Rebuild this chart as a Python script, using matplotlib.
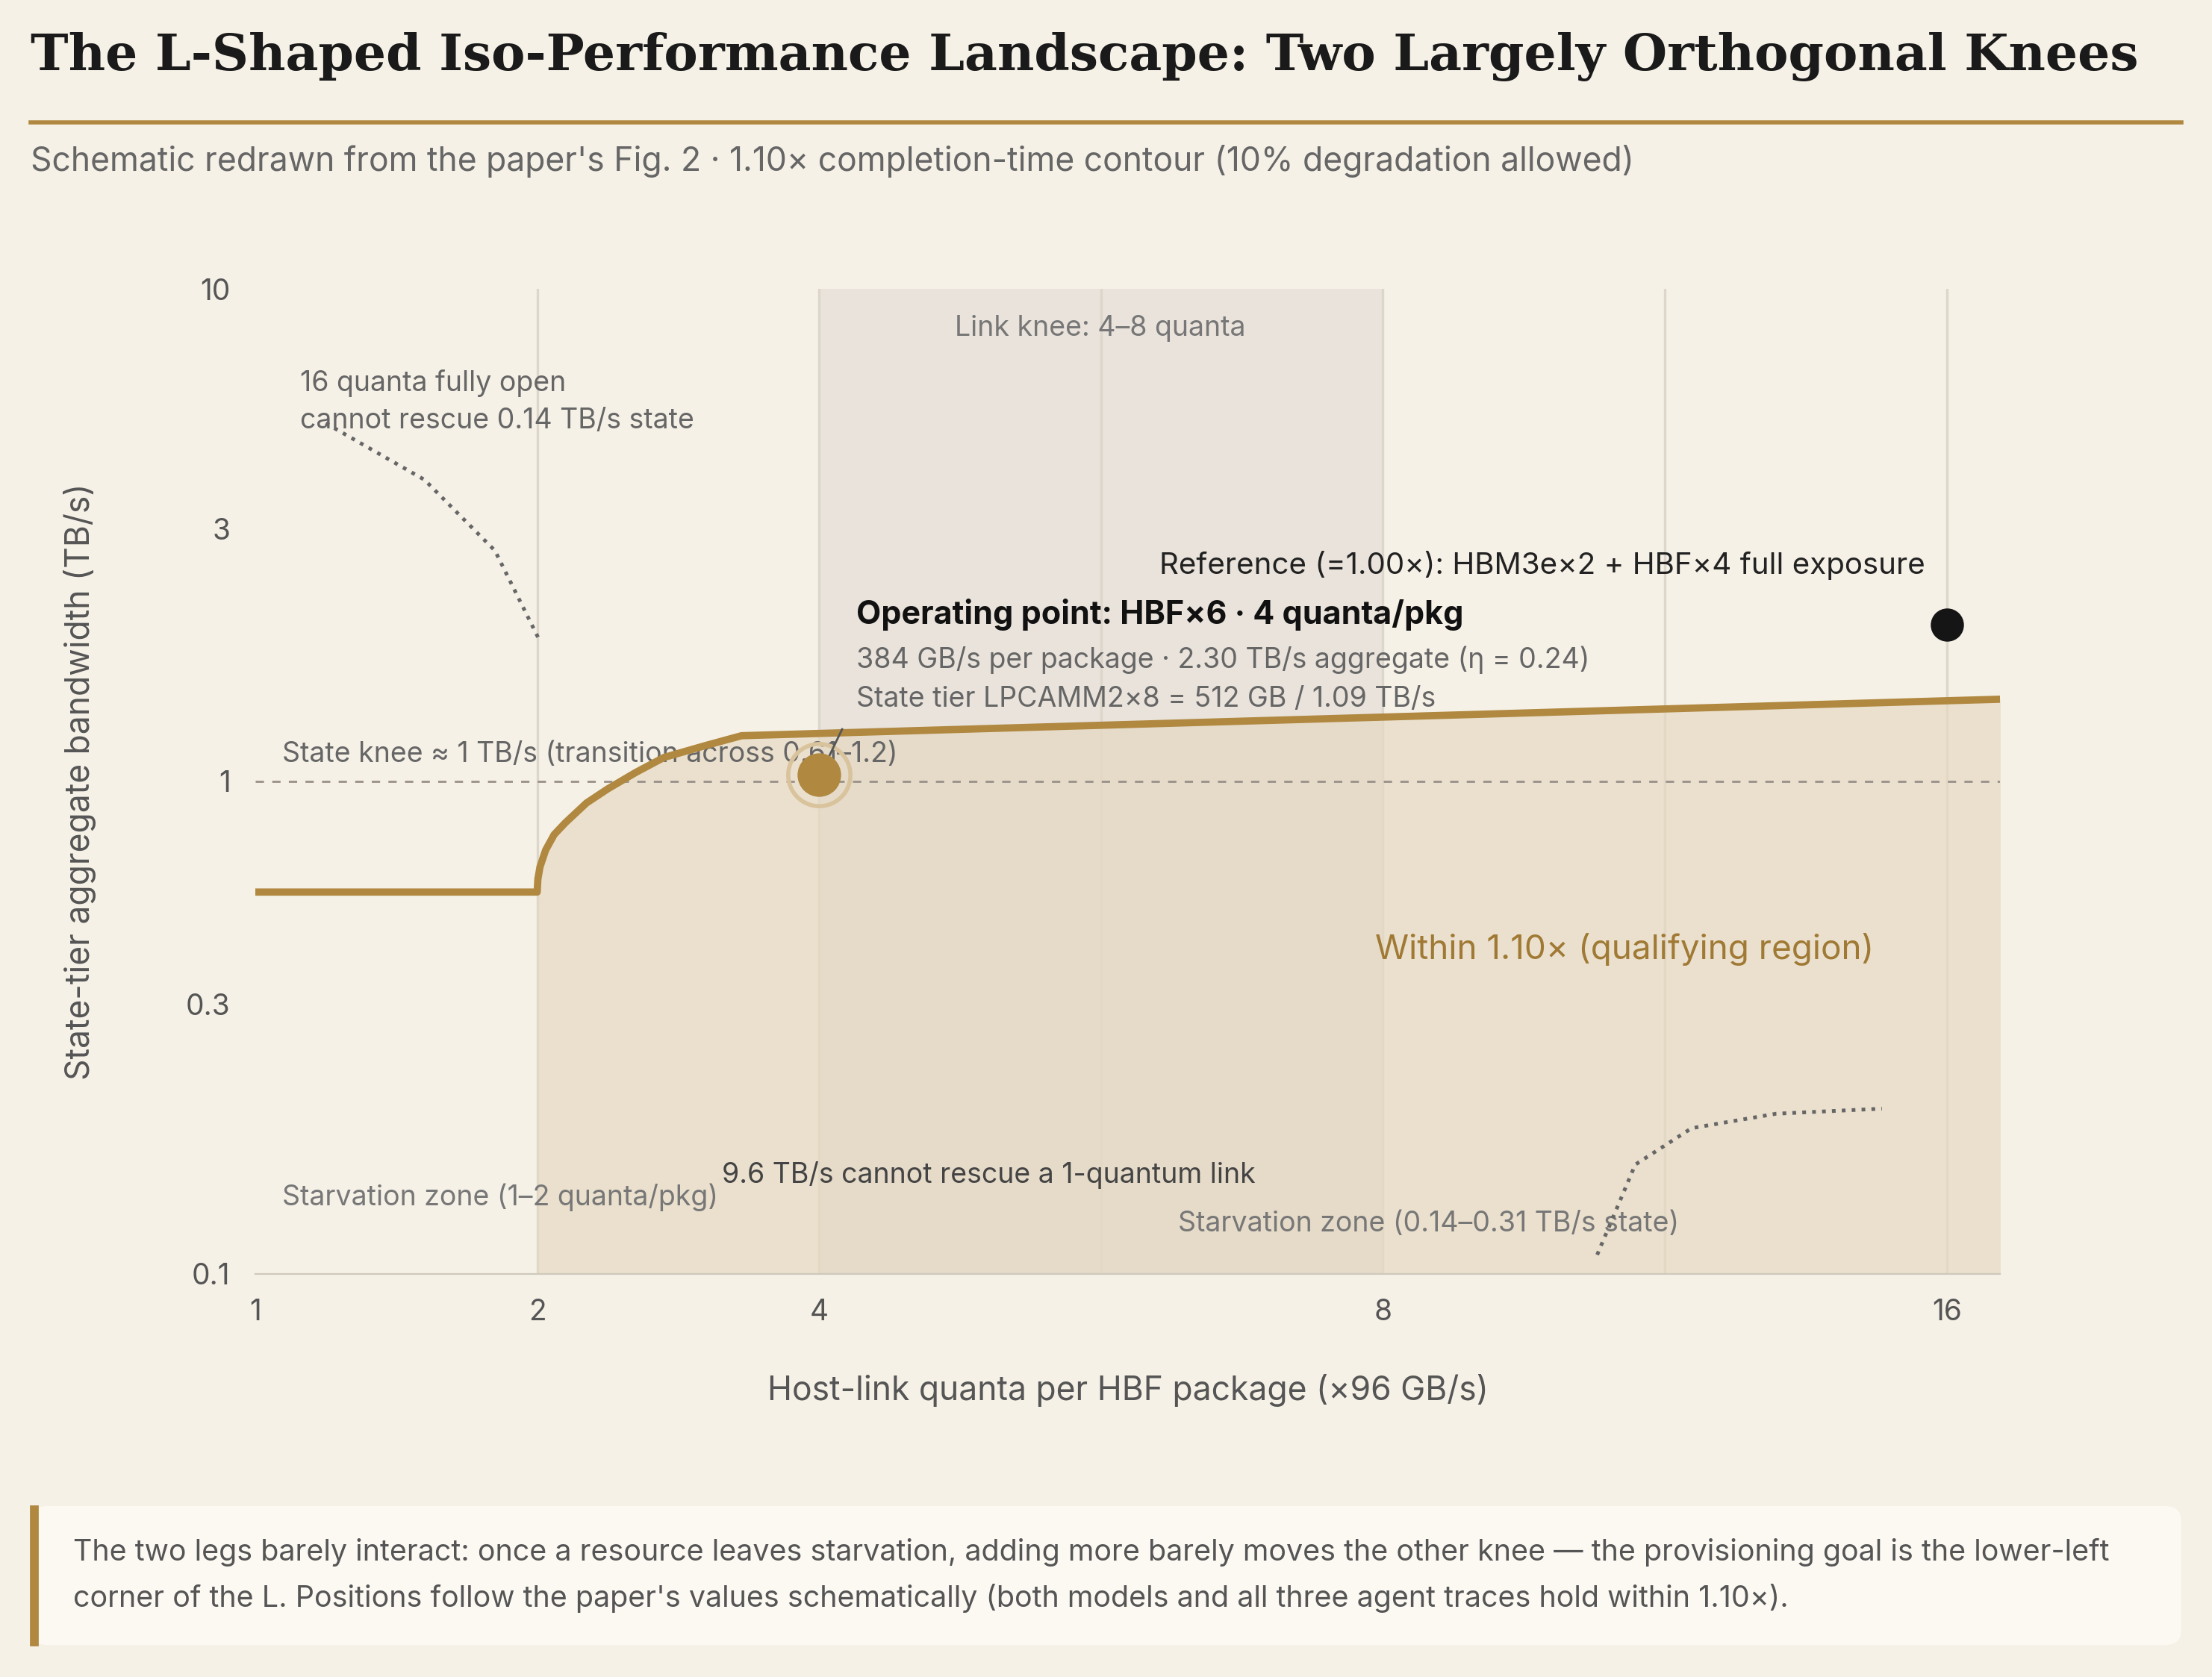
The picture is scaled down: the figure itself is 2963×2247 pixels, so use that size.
import matplotlib
matplotlib.use("Agg")
import numpy as np
import matplotlib.pyplot as plt
from matplotlib.patches import FancyBboxPatch, Rectangle

BG = "#f6f1e7"
GOLD = "#b08840"
plt.rcParams['font.family'] = ['Inter', 'DejaVu Sans']

curve_x = [1, 2, 2.005, 2.02, 2.06, 2.12, 2.2, 2.35, 2.5, 2.7, 2.9, 3.2, 3.45, 16.76]
curve_y = [0.55, 0.55, 0.59, 0.63, 0.69, 0.75, 0.80, 0.89, 0.96, 1.04, 1.11, 1.17, 1.22, 1.43]
xticks = [1, 2, 4, 8, 16]
yticks = [0.1, 0.3, 1, 3, 10]
ytick_labels = ["0.1", "0.3", "1", "3", "10"]
grid_x = [2, 4, 6, 8, 12, 16]
op_point = (4, 1.03)
ref_point = (16, 1.98)
dot1_x = [1.25, 1.6, 1.85, 2.02]
dot1_y = [5.1, 3.84, 2.73, 1.84]
dot2_x = [11.04, 11.58, 12.38, 13.58, 15.08]
dot2_y = [0.108, 0.156, 0.181, 0.192, 0.196]

XB = [1, 2, 4, 8, 16, 32]
XU = [0, 1, 2, 4, 6, 10]
YB = list(np.log10([0.1, 0.3, 1, 3, 10]))
YU = [0, 191, 349, 528, 698]

def xf(v): return np.interp(np.asarray(v, float), XB, XU)
def xi(u): return np.interp(np.asarray(u, float), XU, XB)
def yf(v):
    v = np.clip(np.asarray(v, float), 1e-6, None)
    return np.interp(np.log10(v), YB, YU)
def yi(u): return 10 ** np.interp(np.asarray(u, float), YU, YB)

fig = plt.figure(figsize=(14.815, 11.235), dpi=200, facecolor=BG)
ax = fig.add_axes([0.1154, 0.2405, 0.7889, 0.5871])
ax.set_facecolor(BG)
ax.set_xscale('function', functions=(xf, xi))
ax.set_yscale('function', functions=(yf, yi))
ax.set_xlim(1, 16.76)
ax.set_ylim(0.1, 10)

ax.axvspan(4, 8, color="#e9e3db", zorder=0)
for g in grid_x:
    ax.axvline(g, color="#ddd6cb", lw=1.2, zorder=1)
i2 = curve_x.index(2)
fx = np.geomspace(2, 16.76, 400)
fx = np.unique(np.concatenate([fx, curve_x[i2:]]))
fy = np.interp(fx, curve_x[i2:], curve_y[i2:])
ax.fill_between(curve_x[i2:], curve_y[i2:], 0.1, color="#e6d9c2", alpha=0.7, zorder=2, lw=0)
ax.axhline(1, color="#999089", ls=(0, (4, 4)), lw=1, zorder=3)
ax.plot(curve_x, curve_y, color=GOLD, lw=3.5, zorder=5, solid_joinstyle='round')
ax.plot(dot1_x, dot1_y, color="#666", ls=':', lw=1.8, zorder=4)
ax.plot(dot2_x, dot2_y, color="#666", ls=':', lw=1.8, zorder=4)
ax.plot(*op_point, 'o', ms=30, mfc='none', mec="#d9c39c", mew=2, zorder=6)
ax.plot(*op_point, 'o', ms=20, color=GOLD, zorder=7)
ax.plot(*ref_point, 'o', ms=15, color="#151515", zorder=7)

for s in ['top', 'right', 'left']:
    ax.spines[s].set_visible(False)
ax.spines['bottom'].set_color("#cfc8bb")
ax.set_xticks(xticks)
ax.set_xticklabels([str(t) for t in xticks])
ax.set_yticks(yticks)
ax.set_yticklabels(ytick_labels)
ax.minorticks_off()
ax.tick_params(length=0, labelsize=14, colors="#555", pad=12)
ax.set_xlabel("Host-link quanta per HBF package (×96 GB/s)", fontsize=16, color="#555")
ax.set_ylabel("State-tier aggregate bandwidth (TB/s)", fontsize=16, color="#555")
ax.xaxis.set_label_coords(0.5, -0.102)
ax.yaxis.set_label_coords(-0.091, 0.5)

def P(px, py):
    return ((px - 181) / 1237, (903 - py) / 698)

def T(px, py, s, **kw):
    ax.text(*P(px, py), s, transform=ax.transAxes, va='center', **kw)

tc = "#666"
ax.plot(*zip(P(585, 542), P(597, 517)), transform=ax.transAxes, color="#555", lw=1, zorder=6)
T(780, 233, "Link knee: 4–8 quanta", ha='center', fontsize=13.5, color="#777")
T(213, 285, "16 quanta fully open\ncannot rescue 0.14 TB/s state", fontsize=13.5, color=tc, linespacing=1.5)
T(200, 535, "State knee ≈ 1 TB/s (transition across 0.61–1.2)", fontsize=13.5, color=tc)
T(822, 401, "Reference (=1.00×): HBM3e×2 + HBF×4 full exposure", fontsize=14.5, color="#222")
T(607, 436, "Operating point: HBF×6 · 4 quanta/pkg", fontsize=15.5, color="#111", weight='bold')
T(607, 468, "384 GB/s per package · 2.30 TB/s aggregate (η = 0.24)", fontsize=13.5, color=tc)
T(607, 496, "State tier LPCAMM2×8 = 512 GB / 1.09 TB/s", fontsize=13.5, color=tc)
T(975, 673, "Within 1.10× (qualifying region)", fontsize=16.5, color="#a07a35")
T(200, 849, "Starvation zone (1–2 quanta/pkg)", fontsize=13.5, color="#777")
T(512, 833, "9.6 TB/s cannot rescue a 1-quantum link", fontsize=13.5, color="#444")
T(835, 868, "Starvation zone (0.14–0.31 TB/s state)", fontsize=13.5, color="#777")

fig.text(0.014, 0.966, "The L-Shaped Iso-Performance Landscape: Two Largely Orthogonal Knees",
         family=['DejaVu Serif'], weight='bold', fontsize=24.5, color="#1a1a1a", va='center')
fig.add_artist(plt.Line2D([0.014, 0.986], [0.927, 0.927], color=GOLD, lw=2))
fig.text(0.014, 0.904, "Schematic redrawn from the paper's Fig. 2 · 1.10× completion-time contour (10% degradation allowed)",
         fontsize=16, color="#666", va='center')

box = FancyBboxPatch((0.014, 0.019), 0.972, 0.083, boxstyle="round,pad=0,rounding_size=0.008",
                     transform=fig.transFigure, facecolor="#fcf9f3", edgecolor='none')
fig.add_artist(box)
fig.add_artist(Rectangle((0.014, 0.019), 0.003, 0.083, transform=fig.transFigure, color=GOLD))
fig.text(0.033, 0.0605, "The two legs barely interact: once a resource leaves starvation, adding more barely moves the other knee — the provisioning goal is the lower-left\ncorner of the L. Positions follow the paper's values schematically (both models and all three agent traces hold within 1.10×).",
         fontsize=14.2, color="#555", va='center', linespacing=1.75)

fig.savefig("out.png", dpi=200, facecolor=BG)
